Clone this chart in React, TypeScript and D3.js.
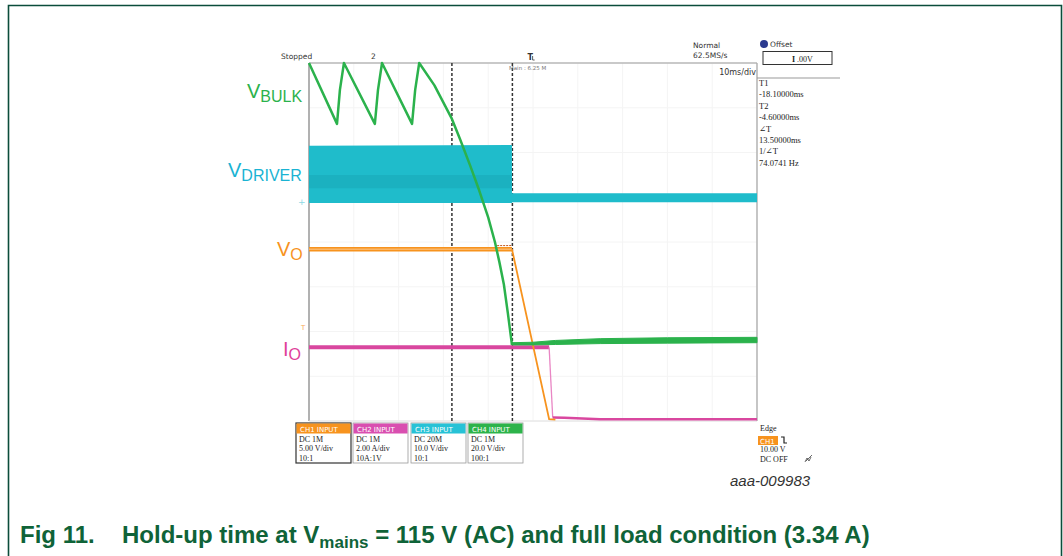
import React from 'react';
import * as d3 from 'd3';

// ---- data (time in ms, amplitude in screen divisions, 0 = centre) ----
const timeDomain = [-50, 50];
const divDomain = [-4, 4];

const bulkTime = [-50, -43.75, -43.1, -42.2, -35.3, -34.6, -33.7, -27.0, -26.3, -25.4, -22, -18.1, -16.3, -14, -12, -10, -8.5, -7.5, -6.5, -5.6, -4.7];
const bulkDiv = [4.0, 2.64, 3.4, 4.0, 2.64, 3.4, 4.0, 2.64, 3.4, 4.0, 3.5, 2.75, 2.3, 1.7, 1.15, 0.55, 0.0, -0.45, -0.95, -1.6, -2.3];

const bulkAfterTime = [-4.7, 0, 5, 15, 30, 50];
const bulkAfterTop = [-2.25, -2.24, -2.2, -2.16, -2.14, -2.13];
const bulkAfterBottom = [-2.3, -2.3, -2.29, -2.27, -2.26, -2.25];

const driverTime = [-50, -4.7, -4.7, 50];
const driverTop = [2.15, 2.17, 1.09, 1.09];
const driverBottom = [0.87, 0.87, 0.89, 0.89];
const driverStripeTime = [-50, -4.7];
const driverStripeTop = [1.5, 1.5];
const driverStripeBottom = [1.2, 1.2];

const voLevelTime = [-50, -4.7];
const voLevelDiv = [-0.16, -0.16];
const voFallTime = [-4.7, 3.6, 5];
const voFallDiv = [-0.16, -3.96, -3.97];
const voBumpTime = [-8.0, -4.7];
const voBumpDiv = [-0.08, -0.08];

const ioLevelTime = [-50, 3.6];
const ioLevelDiv = [-2.35, -2.35];
const ioFallTime = [3.6, 4.4];
const ioFallDiv = [-2.35, -3.92];
const ioTailTime = [4.4, 7, 15, 50];
const ioTailDiv = [-3.92, -3.93, -3.96, -3.96];

const cursorTimes = [-18.1, -4.6];
const triggerTime = -1.2;

const chNames = ['CH1 INPUT', 'CH2 INPUT', 'CH3 INPUT', 'CH4 INPUT'];
const chCoupling = ['DC 1M', 'DC 1M', 'DC 20M', 'DC 1M'];
const chScale = ['5.00 V/div', '2.00 A/div', '10.0 V/div', '20.0 V/div'];
const chProbe = ['10:1', '10A:1V', '10:1', '100:1'];
const chColors = ['#f7931e', '#d94fb0', '#27c2d6', '#2db34a'];

const readoutLines = ['T1', '-18.10000ms', 'T2', '-4.60000ms', '\u2220T', '13.50000ms', '1/\u2220T', '74.0741 Hz'];

const GREEN = '#2bb24c';
const CYAN = '#1fbccb';
const ORANGE = '#f7931e';
const MAGENTA = '#d9479f';

export default function App() {
  const x = d3.scaleLinear().domain(timeDomain).range([309, 757]);
  const y = d3.scaleLinear().domain(divDomain).range([421, 63]);

  const line = d3.line<[number, number]>().x(d => x(d[0])).y(d => y(d[1]));
  const area = d3.area<[number, number, number]>().x(d => x(d[0])).y0(d => y(d[2])).y1(d => y(d[1]));

  const zip2 = (a: number[], b: number[]) => a.map((v, i) => [v, b[i]] as [number, number]);
  const zip3 = (a: number[], b: number[], c: number[]) => a.map((v, i) => [v, b[i], c[i]] as [number, number, number]);

  const gridX = d3.range(timeDomain[0], timeDomain[1] + 1, 10);
  const gridY = d3.range(divDomain[0], divDomain[1] + 1, 1);

  const ui = "Tahoma, 'DejaVu Sans', sans-serif";
  const serif = "'Liberation Serif', 'DejaVu Serif', serif";
  const arial = "Arial, 'Liberation Sans', sans-serif";

  const boxX = [296, 353, 411, 468];

  return (
    <svg width={1063} height={556} style={{ position: 'absolute', left: 0, top: 0, background: '#fff' }}>
      <rect x={0} y={0} width={1063} height={556} fill="#fff" />
      {/* outer frame */}
      <path d="M8.5,600 V5.5 H1061.5 V600" fill="none" stroke="#0b4d3b" strokeWidth={1.6} />

      {/* grid */}
      {gridX.map(t => (
        <line key={'gx' + t} x1={x(t)} x2={x(t)} y1={63} y2={421} stroke="#f4f4f4" strokeWidth={1} />
      ))}
      {gridY.map(v => (
        <line key={'gy' + v} x1={309} x2={757} y1={y(v)} y2={y(v)} stroke="#f4f4f4" strokeWidth={1} />
      ))}

      {/* plot borders */}
      <line x1={309} x2={757} y1={63} y2={63} stroke="#b8b8b8" strokeWidth={1.5} />
      <line x1={309} x2={309} y1={63} y2={421} stroke="#999" strokeWidth={1.5} />
      <line x1={757} x2={757} y1={63} y2={421} stroke="#aaa" strokeWidth={1.3} />
      <line x1={309} x2={757} y1={421} y2={421} stroke="#e2e2e2" strokeWidth={1} />
      <line x1={757} x2={840} y1={78} y2={78} stroke="#999" strokeWidth={1} />

      {/* cursors */}
      {cursorTimes.map(t => (
        <line key={'c' + t} x1={x(t)} x2={x(t)} y1={63} y2={421} stroke="#333" strokeWidth={1.5} strokeDasharray="3,2" />
      ))}

      {/* V_DRIVER */}
      <path d={area(zip3(driverTime, driverTop, driverBottom)) || ''} fill={CYAN} />
      <path d={area(zip3(driverStripeTime, driverStripeTop, driverStripeBottom)) || ''} fill="#169fae" opacity={0.4} />

      {/* I_O */}
      <path d={line(zip2(ioLevelTime, ioLevelDiv)) || ''} fill="none" stroke={MAGENTA} strokeWidth={4} />
      <path d={line(zip2(ioFallTime, ioFallDiv)) || ''} fill="none" stroke="#e986c4" strokeWidth={1.3} />
      <path d={line(zip2(ioTailTime, ioTailDiv)) || ''} fill="none" stroke={MAGENTA} strokeWidth={2.5} />
      {/* V_O */}
      <path d={line(zip2(voLevelTime, voLevelDiv)) || ''} fill="none" stroke={ORANGE} strokeWidth={4.5} />
      <path d={line(zip2(voLevelTime, voLevelDiv)) || ''} fill="none" stroke="#fcc88f" strokeWidth={1} />
      <path d={line(zip2(voFallTime, voFallDiv)) || ''} fill="none" stroke={ORANGE} strokeWidth={1.8} />
      <path d={line(zip2(voBumpTime, voBumpDiv)) || ''} fill="none" stroke="#c4561a" strokeWidth={1} strokeDasharray="2,1" />

      {/* V_BULK */}
      <path d={line(zip2(bulkTime, bulkDiv)) || ''} fill="none" stroke={GREEN} strokeWidth={2.5} strokeLinejoin="round" />
      <path d={area(zip3(bulkAfterTime, bulkAfterTop, bulkAfterBottom)) || ''} fill={GREEN} stroke={GREEN} strokeWidth={1} />

      {/* ground markers */}
      <text x={298} y={205} fontSize={9} fill="#8fd8e4" fontFamily={ui}>+</text>
      <text x={301} y={330} fontSize={7} fill="#f7a85a" fontFamily={ui}>T</text>

      {/* channel labels */}
      <text x={247} y={98} fill={GREEN} fontFamily={arial} fontSize={20}>V<tspan fontSize={16} dy={4}>BULK</tspan></text>
      <text x={228} y={177} fill="#1ab3d3" fontFamily={arial} fontSize={20}>V<tspan fontSize={16} dy={4}>DRIVER</tspan></text>
      <text x={277} y={256} fill={ORANGE} fontFamily={arial} fontSize={20}>V<tspan fontSize={16} dy={4}>O</tspan></text>
      <text x={283} y={356} fill="#e0409a" fontFamily={arial} fontSize={20}>I<tspan fontSize={16} dy={4}>O</tspan></text>

      {/* top status text */}
      <text x={281} y={59} fontSize={7.5} fill="#333" fontFamily={ui}>Stopped</text>
      <text x={371} y={59} fontSize={7.5} fill="#333" fontFamily={ui}>2</text>
      <text x={x(triggerTime)} y={60} fontSize={8} fill="#333" fontFamily={ui} fontWeight="bold">T</text>
      <path d={`M${x(triggerTime) + 5},56 v4 h2`} fill="none" stroke="#333" strokeWidth={0.8} />
      <text x={509} y={70} fontSize={5.5} fill="#777" fontFamily={ui}>Main : 6.25 M</text>
      <text x={693} y={48} fontSize={7.5} fill="#333" fontFamily={ui}>Normal</text>
      <text x={693} y={58} fontSize={7.5} fill="#333" fontFamily={ui}>62.5MS/s</text>
      <text x={756} y={75} fontSize={8} fill="#333" fontFamily={ui} textAnchor="end">10ms/div</text>

      {/* offset box */}
      <circle cx={764} cy={44} r={4} fill="#2b3a8f" />
      <text x={770} y={47} fontSize={7.5} fill="#333" fontFamily={ui}>Offset</text>
      <rect x={763} y={51.5} width={69} height={13} fill="#fff" stroke="#333" strokeWidth={1} />
      <text x={792} y={61.5} fontSize={8} fill="#222" fontFamily={serif} fontWeight="bold">I</text>
      <text x={797} y={61.5} fontSize={8} fill="#222" fontFamily={serif}>.00V</text>

      {/* cursor readout */}
      {readoutLines.map((s, i) => (
        <text key={'r' + i} x={759} y={86 + i * 11.4} fontSize={8.5} fill="#222" fontFamily={serif}>{s}</text>
      ))}

      {/* channel boxes */}
      {chNames.map((n, i) => (
        <g key={n}>
          <rect x={boxX[i]} y={423} width={55} height={40} fill="#fff" stroke={i === 0 ? '#333' : '#999'} strokeWidth={i === 0 ? 1.2 : 0.8} />
          <rect x={boxX[i] + 0.5} y={423.5} width={54} height={10} fill={chColors[i]} />
          <text x={boxX[i] + 4} y={431.5} fontSize={7} fill="#fff" fontFamily={ui}>{n}</text>
          <text x={boxX[i] + 3} y={442} fontSize={8} fill="#222" fontFamily={serif}>{chCoupling[i]}</text>
          <text x={boxX[i] + 3} y={451} fontSize={8} fill="#222" fontFamily={serif}>{chScale[i]}</text>
          <text x={boxX[i] + 3} y={460.5} fontSize={8} fill="#222" fontFamily={serif}>{chProbe[i]}</text>
        </g>
      ))}

      {/* trigger panel */}
      <text x={760} y={431} fontSize={8} fill="#222" fontFamily={serif}>Edge</text>
      <rect x={758} y={436} width={20} height={9} fill={ORANGE} />
      <text x={760} y={443.5} fontSize={7} fill="#fff" fontFamily={ui}>CH1</text>
      <path d="M781,437 h3 v6 h3" fill="none" stroke="#222" strokeWidth={1.2} />
      <text x={760} y={452} fontSize={8} fill="#222" fontFamily={serif}>10.00 V</text>
      <text x={760} y={462} fontSize={8} fill="#222" fontFamily={serif}>DC OFF</text>
      <path d="M805,462 l2,-4 l2,3 l2,-4 M806,461 l6,-6" fill="none" stroke="#444" strokeWidth={0.8} />
      <text x={730} y={486} fontSize={15} fill="#333" fontFamily={arial} fontStyle="italic">aaa-009983</text>

      {/* caption */}
      <text x={20} y={543} fontSize={24} fill="#0f6338" fontFamily={arial} fontWeight="bold">
        Fig 11.
        <tspan x={122}>Hold-up time at V</tspan>
        <tspan fontSize={17} dy={5}>mains</tspan>
        <tspan dy={-5}> = 115 V (AC) and full load condition (3.34 A)</tspan>
      </text>
    </svg>
  );
}
